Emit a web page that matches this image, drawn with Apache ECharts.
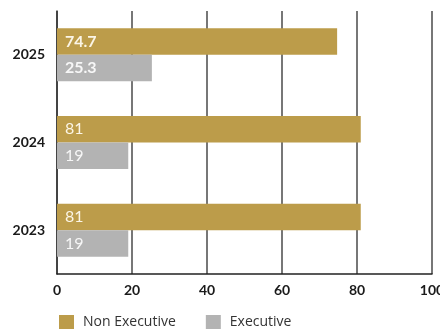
<!DOCTYPE html>
<html>
<head>
<meta charset="utf-8">
<script src="https://cdn.jsdelivr.net/npm/echarts@6/dist/echarts.min.js"></script>
<style>
  html, body { margin: 0; padding: 0; background: #fff; }
  #chart { width: 440px; height: 334px; }
</style>
</head>
<body>
<div id="chart"></div>
<script>
// Board composition by year (percent)
const years = ['2025', '2024', '2023'];
const nonExecutive = [74.7, 81, 81];
const executive = [25.3, 19, 19];
const xTicks = [0, 20, 40, 60, 80, 100];

const GOLD = '#BC9C4A';
const GREY = '#B3B3B3';

// Latest year's value labels are set in a heavier weight
function withLabels(values, color) {
  return values.map((v, i) => ({
    value: v,
    label: {
      fontWeight: i === 0 ? 'bold' : 'normal',
      color: color
    }
  }));
}

const chart = echarts.init(document.getElementById('chart'), null, { renderer: 'canvas' });

chart.setOption({
  animation: false,
  backgroundColor: '#fff',
  grid: { left: 57, right: 8, top: 11, bottom: 60, containLabel: false, outerBoundsMode: 'none' },
  legend: {
    left: 59,
    top: 315,
    padding: 0,
    itemWidth: 15,
    itemHeight: 14,
    itemGap: 30,
    icon: 'rect',
    textStyle: { fontFamily: 'Open Sans', fontSize: 14, color: '#333', padding: [0, 0, 0, 4] },
    data: ['Non Executive', 'Executive']
  },
  xAxis: {
    type: 'value',
    min: xTicks[0],
    max: xTicks[xTicks.length - 1],
    interval: xTicks[1] - xTicks[0],
    axisLine: { show: true, lineStyle: { color: '#222', width: 1.5 } },
    axisTick: { show: false },
    axisLabel: {
      margin: 9,
      fontFamily: 'Lato',
      fontWeight: 'bold',
      fontSize: 14,
      color: '#1a1a1a'
    },
    splitLine: { show: true, lineStyle: { color: '#4a4a4a', width: 1.5 } }
  },
  yAxis: {
    type: 'category',
    inverse: true,
    data: years,
    axisLine: { show: true, lineStyle: { color: '#333', width: 1.5 } },
    axisTick: { show: false },
    axisLabel: {
      margin: 12,
      fontFamily: 'Lato',
      fontWeight: 'bold',
      fontSize: 14,
      color: '#1a1a1a'
    }
  },
  series: [
    {
      name: 'Non Executive',
      type: 'bar',
      barWidth: 26.5,
      barGap: '0%',
      itemStyle: { color: GOLD },
      label: {
        show: true,
        position: 'insideLeft',
        distance: 8,
        fontFamily: 'Lato',
        fontSize: 16
      },
      data: withLabels(nonExecutive, '#fbf5e6')
    },
    {
      name: 'Executive',
      type: 'bar',
      barWidth: 26.5,
      barGap: '0%',
      itemStyle: { color: GREY },
      label: {
        show: true,
        position: 'insideLeft',
        distance: 8,
        fontFamily: 'Lato',
        fontSize: 16
      },
      data: withLabels(executive, '#f7f7f7')
    }
  ]
});
</script>
</body>
</html>
